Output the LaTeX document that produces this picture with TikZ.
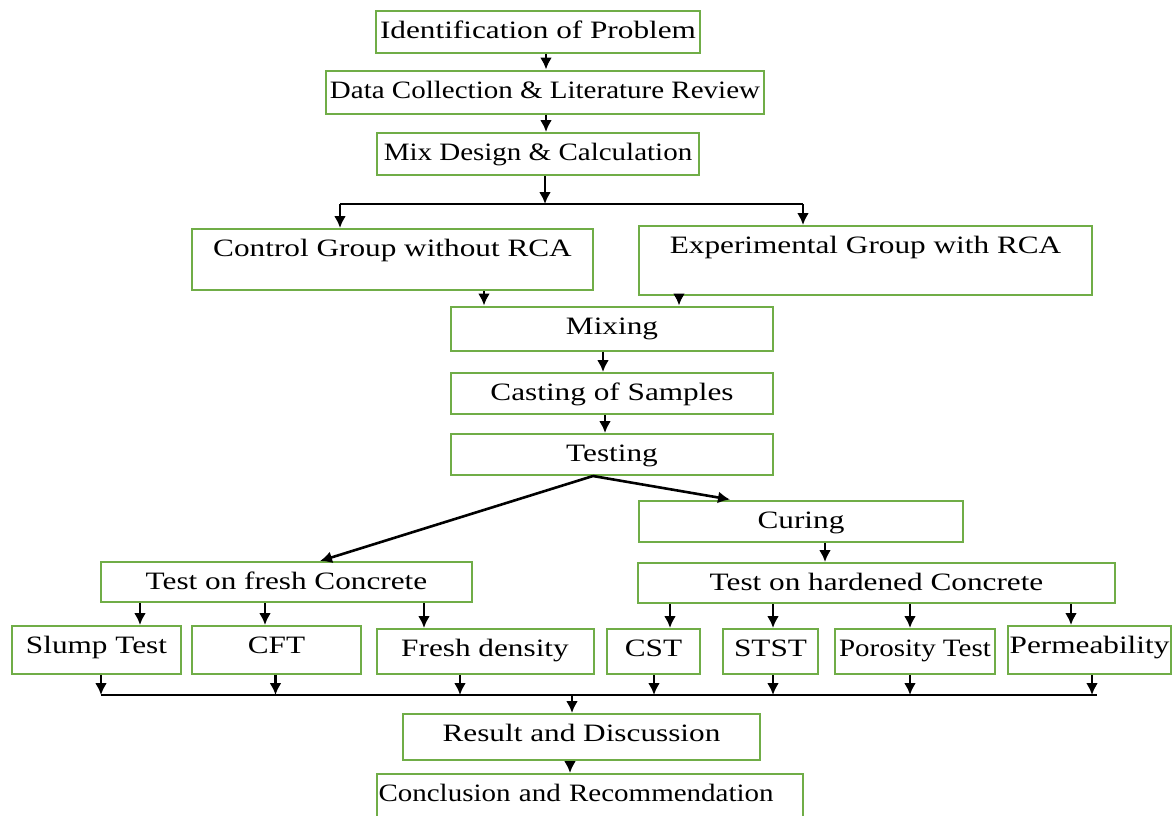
\documentclass[tikz,border=0pt]{standalone}
\usepackage{fontspec}
\setmainfont{Liberation Serif}[FakeStretch=1.25]
\newfontfamily\narrowserif{Liberation Serif}[FakeStretch=1.16]
\usetikzlibrary{arrows.meta}
\definecolor{stagegreen}{RGB}{112,173,71}
\tikzset{
	stage/.style 2 args={draw=stagegreen, line width=1pt, inner xsep=1pt, inner ysep=1pt,
		minimum width=#1*0.5pt, minimum height=#2*0.5pt,
		text height=12.9pt, text depth=#2*0.5pt-14.9pt},
	link/.style={line width=1.3pt},
}

\begin{document}
\begin{tikzpicture}[x=0.5pt, y=-0.5pt, >={Latex[length=6pt,width=6pt]},
	font=\fontsize{12.5}{15}\selectfont]
	\useasboundingbox (0,0) rectangle (1172,815);
	\clip (0,0) rectangle (1172,815);

	\node (prob)   at (538,32)      [stage={324}{42}] {Identification of Problem};
	\node (data)   at (545,92)      [stage={438}{43}] {\narrowserif Data Collection \& Literature Review};
	\node (mix)    at (538,154)     [stage={322}{42}] {\narrowserif Mix Design \& Calculation};
	\node (ctrl)   at (392.5,259.5) [stage={401}{61}] {Control Group without RCA};
	\node (expt)   at (865.5,260.5) [stage={453}{69}] {Experimental Group with RCA};
	\node (mixing) at (612,328.5)   [stage={322}{44}] {Mixing};
	\node (cast)   at (612,393.5)   [stage={322}{41}] {Casting of Samples};
	\node (test)   at (612,454.5)   [stage={322}{41}] {Testing};
	\node (curing) at (801,521)     [stage={324}{41}] {Curing};
	\node (fresh)  at (286.5,582)   [stage={371}{40}] {Test on fresh Concrete};
	\node (hard)   at (876.5,583)   [stage={477}{40}] {Test on hardened Concrete};
	\node (slump)  at (96.5,650)    [stage={169}{48}] {Slump Test};
	\node (cft)    at (276.5,650)   [stage={169}{48}] {CFT};
	\node (fdens)  at (485,651.5)   [stage={217}{45}] {Fresh density};
	\node (cst)    at (653.5,651.5) [stage={93}{45}]  {CST};
	\node (stst)   at (770.5,651.5) [stage={95}{45}]  {STST};
	\node (poro)   at (915,651.5)   [stage={160}{45}] {\narrowserif Porosity Test};
	\node (perm)   at (1089.5,650)  [stage={163}{48}] {Permeability};
	\node (result) at (581.5,737)   [stage={357}{46}] {Result and Discussion};
	\node (concl)  at (589.5,804)   [stage={426}{60}, align=left, text width=211pt] {\narrowserif Conclusion and Recommendation};

	\coordinate (splitL) at (340,204);
	\coordinate (splitR) at (803,204);
	\coordinate (busL) at (101,695);
	\coordinate (busR) at (1097,695);

	% Draw an arrow between the nodes
	\draw[->, link] (prob.south -| 546,0) -- (data.north -| 546,0);
	\draw[->, link] (data.south -| 546,0) -- (mix.north -| 546,0);
	\draw[->, link] (mix.south -| 545,0) -- (splitL -| 545,0);
	\draw[link] (splitL) -- (splitR);
	\draw[->, link] (splitL) -- (ctrl.north -| splitL);
	\draw[->, link] (splitR) -- (expt.north -| splitR);
	\draw[->, link] (ctrl.south -| 484,0) -- (mixing.north -| 484,0);
	\draw[->, link] (expt.south -| 679,0) -- (mixing.north -| 679,0);
	\draw[->, link] (mixing.south -| 603,0) -- (cast.north -| 603,0);
	\draw[->, link] (cast.south -| 605,0) -- (test.north -| 605,0);
	\draw[->, link] (test.south -| 593,0) -- (fresh.north -| 320,0);
	\draw[->, link] (test.south -| 593,0) -- (curing.north -| 730,0);
	\draw[->, link] (curing.south -| 825,0) -- (hard.north -| 825,0);

	\draw[->, link] (fresh.south -| 140,0) -- (slump.north -| 140,0);
	\draw[->, link] (fresh.south -| 265,0) -- (cft.north -| 265,0);
	\draw[->, link] (fresh.south -| 424,0) -- (fdens.north -| 424,0);
	\draw[->, link] (hard.south -| 670,0) -- (cst.north -| 670,0);
	\draw[->, link] (hard.south -| 773,0) -- (stst.north -| 773,0);
	\draw[->, link] (hard.south -| 910,0) -- (poro.north -| 910,0);
	\draw[->, link] (hard.south -| 1071,0) -- (perm.north -| 1071,0);

	\draw[->, link] (slump.south -| busL) -- (busL);
	\draw[->, link] (cft.south -| 275.5,0) -- (busL -| 275.5,0);
	\draw[->, link] (fdens.south -| 460,0) -- (busL -| 460,0);
	\draw[->, link] (cst.south -| 654,0) -- (busL -| 654,0);
	\draw[->, link] (stst.south -| 773,0) -- (busL -| 773,0);
	\draw[->, link] (poro.south -| 910,0) -- (busL -| 910,0);
	\draw[->, link] (perm.south -| 1092,0) -- (busL -| 1092,0);
	\draw[link] (busL) -- (busR);
	\draw[->, link] (busL -| 572,0) -- (result.north -| 572,0);
	\draw[->, link] (result.south -| 570,0) -- (concl.north -| 570,0);
\end{tikzpicture}
\end{document}
